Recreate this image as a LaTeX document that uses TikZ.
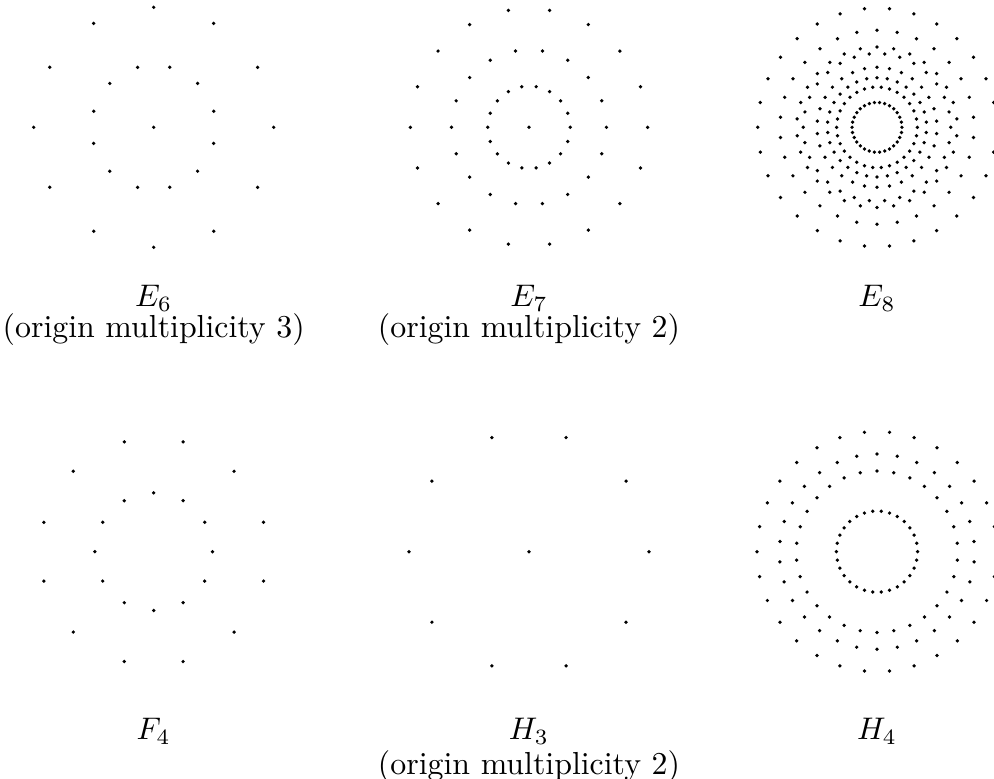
\documentclass[tikz,border=0pt]{standalone}
\usepackage{amsmath}
\usetikzlibrary{positioning}

\begin{document}
\begin{tikzpicture}[pt/.style={fill=black}, lbl/.style={font=\fontsize{10.2}{12}\selectfont, anchor=base, inner sep=0pt}]
  \useasboundingbox (0,0) rectangle (11.1825,8.7525);
  % centres of the six projections
  \coordinate (e6) at (1.729,7.320);
  \coordinate (e7) at (5.951,7.320);
  \coordinate (e8) at (9.866,7.320);
  \coordinate (f4) at (1.729,2.546);
  \coordinate (h3) at (5.951,2.546);
  \coordinate (h4) at (9.866,2.546);
  % E6 -- radius/points/offset
  \foreach \r/\n/\o in {1.35/12/0, 0.6988/12/15}
    \foreach \k in {1,...,\n}
      \fill[pt, shift={(e6)}] ({\o+360/\n*\k}:\r) circle (0.021);
  \fill[pt] (e6) circle (0.021);
  % E7
  \foreach \r/\n/\o in {1.335/18/0, 0.8714/18/0, 0.4637/18/0}
    \foreach \k in {1,...,\n}
      \fill[pt, shift={(e7)}] ({\o+360/\n*\k}:\r) circle (0.021);
  \fill[pt] (e7) circle (0.021);
  % E8
  \foreach \r/\n/\o in {1.342/30/0, 1.0917/30/6, 0.9029/30/6, 0.8294/30/0,
                        0.6747/30/6, 0.5580/30/6, 0.4540/30/0, 0.2806/30/0}
    \foreach \k in {1,...,\n}
      \fill[pt, shift={(e8)}] ({\o+360/\n*\k}:\r) circle (0.021);
  % F4
  \foreach \r/\n/\o in {1.279/12/15, 0.662/12/0}
    \foreach \k in {1,...,\n}
      \fill[pt, shift={(f4)}] ({\o+360/\n*\k}:\r) circle (0.021);
  % H3
  \foreach \k in {1,...,10}
    \fill[pt, shift={(h3)}] ({36*\k}:1.35) circle (0.021);
  \fill[pt] (h3) circle (0.021);
  % H4
  \foreach \r/\n/\o in {1.35/30/0, 1.0982/30/6, 0.9083/30/6, 0.4567/30/0}
    \foreach \k in {1,...,\n}
      \fill[pt, shift={(h4)}] ({\o+360/\n*\k}:\r) circle (0.021);
  % labels
  \node[lbl] (e6name) at (1.729,5.300) {$E_6$};
  \node[lbl] (e6mult) at (1.729,4.950) {(origin multiplicity 3)};
  \node[lbl] (e7name) at (5.951,5.300) {$E_7$};
  \node[lbl] (e7mult) at (5.951,4.950) {(origin multiplicity 2)};
  \node[lbl] (e8name) at (9.866,5.300) {$E_8$};
  \node[lbl] (f4name) at (1.729,0.430) {$F_4$};
  \node[lbl] (h3name) at (5.951,0.430) {$H_3$};
  \node[lbl] (h3mult) at (5.951,0.038) {(origin multiplicity 2)};
  \node[lbl] (h4name) at (9.866,0.430) {$H_4$};
\end{tikzpicture}
\end{document}
